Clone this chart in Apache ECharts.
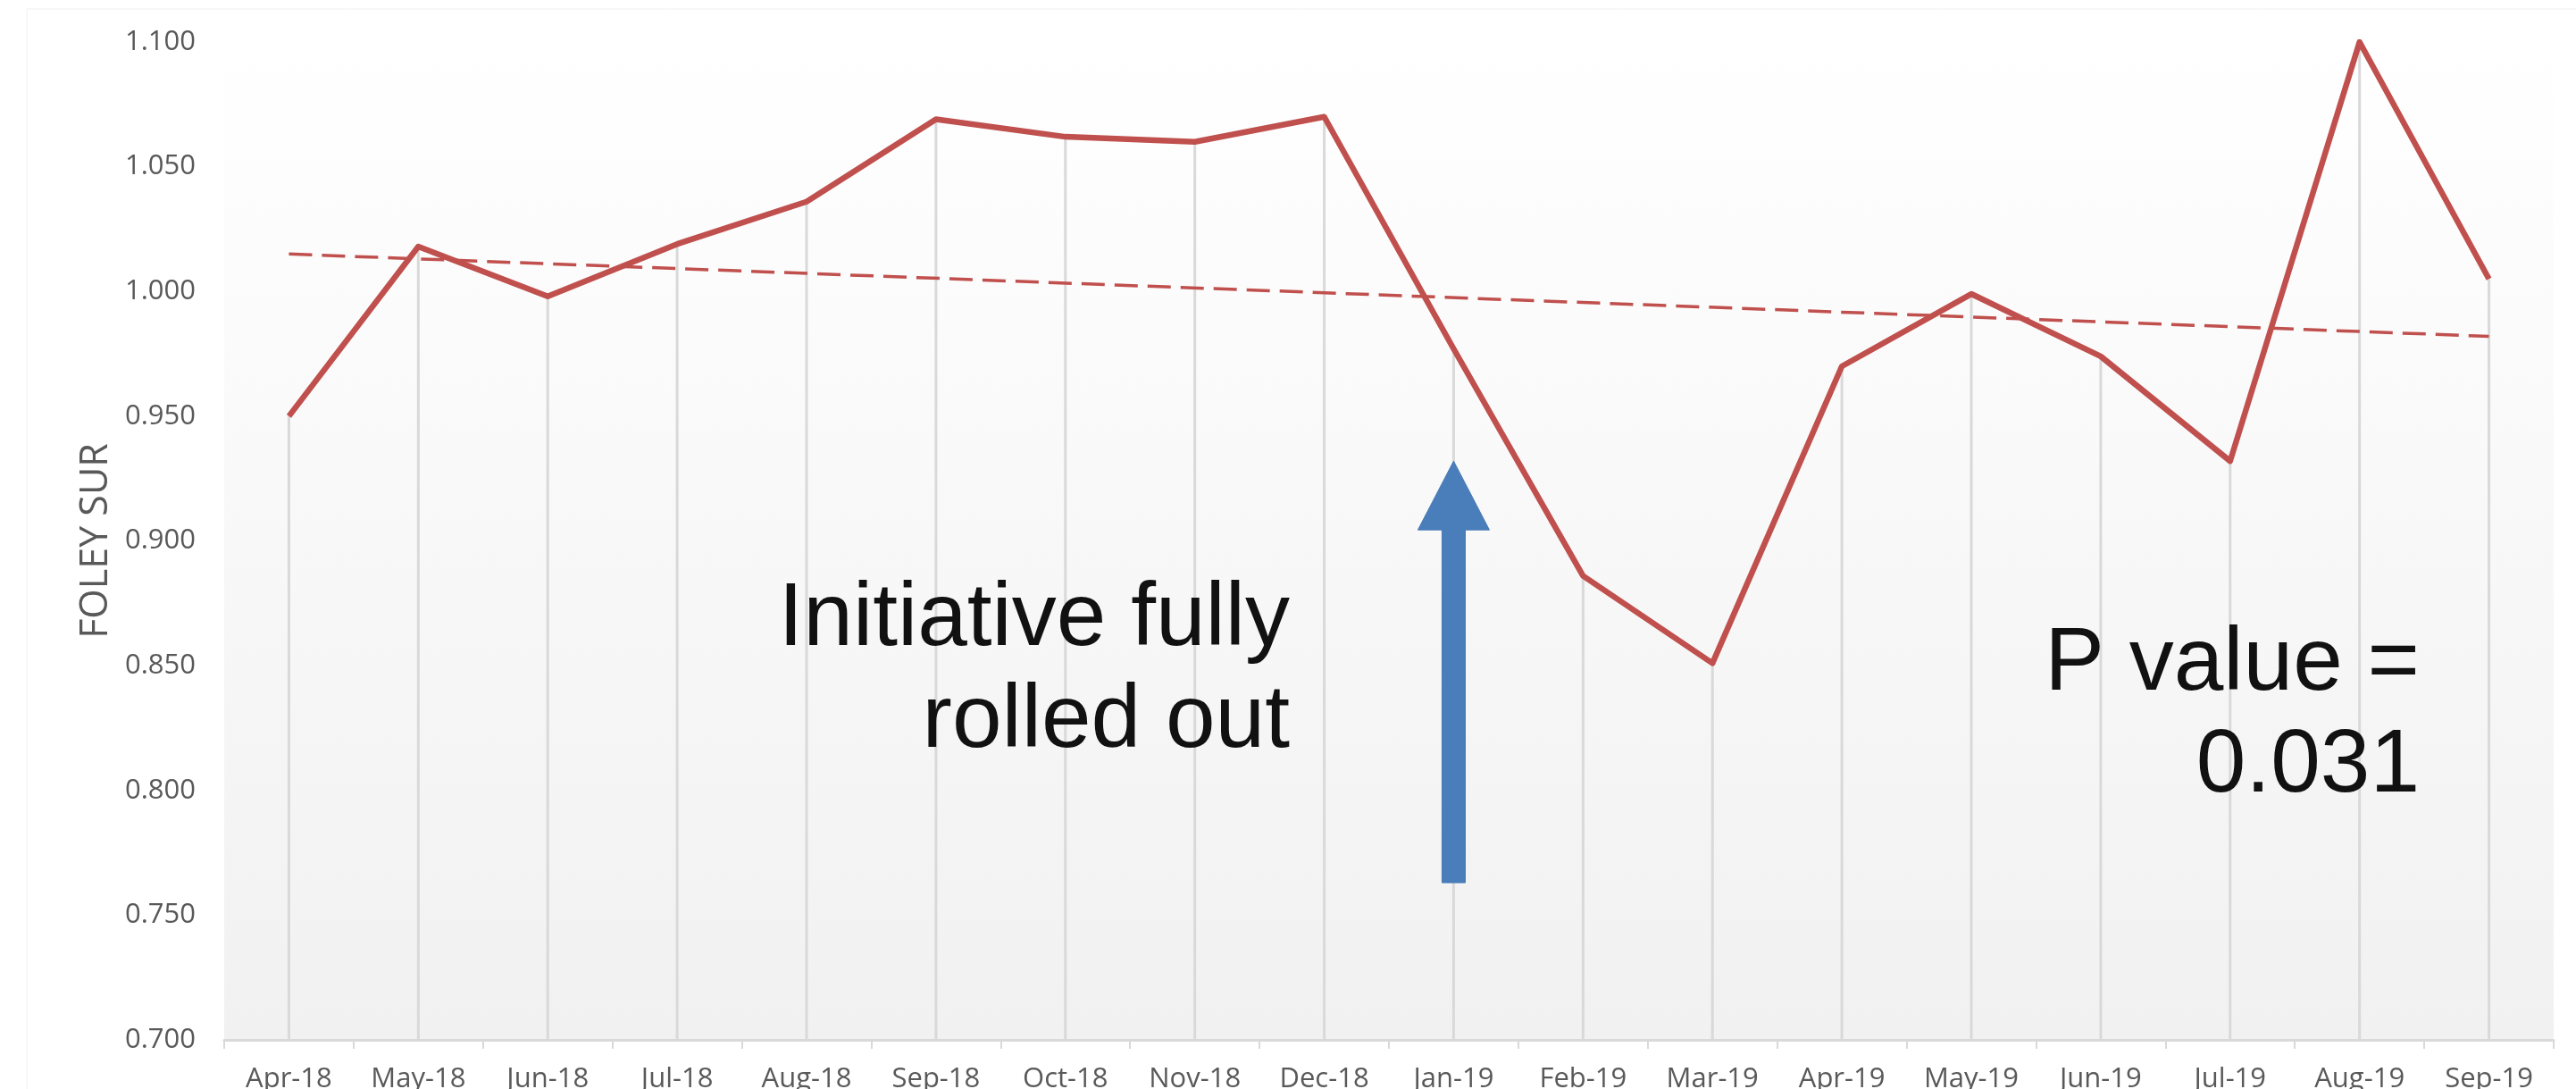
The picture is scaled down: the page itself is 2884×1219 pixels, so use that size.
<!DOCTYPE html>
<html>
<head>
<meta charset="utf-8">
<title>Foley SUR</title>
<script src="https://cdn.jsdelivr.net/npm/echarts@6/dist/echarts.min.js"></script>
<style>
  html, body { margin: 0; padding: 0; background: #ffffff; }
  #chart { width: 2884px; height: 1219px; }
</style>
</head>
<body>
<div id="chart"></div>
<script>
// Monthly Foley standardized utilization ratio (SUR)
const months = ['Apr-18', 'May-18', 'Jun-18', 'Jul-18', 'Aug-18', 'Sep-18',
                'Oct-18', 'Nov-18', 'Dec-18', 'Jan-19', 'Feb-19', 'Mar-19',
                'Apr-19', 'May-19', 'Jun-19', 'Jul-19', 'Aug-19', 'Sep-19'];
const foleySur = [0.950, 1.018, 0.998, 1.019, 1.036, 1.069,
                  1.062, 1.060, 1.070, 0.977, 0.886, 0.851,
                  0.970, 0.999, 0.974, 0.932, 1.100, 1.005];
// Linear trend: value at the first and at the last month
const trendStart = 1.015;
const trendEnd = 0.982;
// Value axis range and step
const yMin = 0.70;
const yMax = 1.10;
const yStep = 0.05;
// Annotation: arrow on the roll-out month
const rolloutMonth = 'Jan-19';
const arrowTipValue = 0.932;
const arrowTailValue = 0.763;

const trendline = months.map((m, i) =>
  i === 0 ? trendStart : (i === months.length - 1 ? trendEnd : null));

const chart = echarts.init(document.getElementById('chart'), null, { renderer: 'canvas' });

const tickFont = 'Open Sans, Segoe UI, sans-serif';
const calloutFont = 'Liberation Sans, Arial, Helvetica, sans-serif';
const RED = '#c0504d';

chart.setOption({
  animation: false,
  backgroundColor: '#ffffff',
  grid: {
    left: 251, right: 25, top: 47, bottom: 55,
    containLabel: false,
    outerBoundsMode: 'none',
    show: true,
    borderWidth: 0,
    backgroundColor: new echarts.graphic.LinearGradient(0, 0, 0, 1, [
      { offset: 0, color: '#ffffff' },
      { offset: 1, color: '#f1f1f1' }
    ])
  },
  xAxis: {
    type: 'category',
    data: months,
    boundaryGap: true,
    axisLine: { show: true, lineStyle: { color: '#d9d9d9', width: 3 } },
    axisTick: { show: true, length: 10, lineStyle: { color: '#d9d9d9', width: 2 } },
    axisLabel: { interval: 0, margin: 29, fontFamily: tickFont, fontSize: 31, color: '#595959' },
    splitLine: { show: false }
  },
  yAxis: {
    type: 'value',
    min: yMin,
    max: yMax,
    interval: yStep,
    startValue: yMin,
    axisLine: { show: false },
    axisTick: { show: false },
    splitLine: { show: false },
    axisLabel: {
      margin: 32,
      fontFamily: tickFont, fontSize: 31, color: '#595959',
      formatter: v => v.toFixed(3)
    },
    name: 'FOLEY SUR',
    nameLocation: 'middle',
    nameGap: 120,
    nameTextStyle: { fontFamily: tickFont, fontSize: 43, color: '#595959' }
  },
  series: [
    {
      // drop lines from each monthly value down to the axis
      name: 'drop',
      type: 'bar',
      data: foleySur,
      barWidth: 3,
      clip: true,
      silent: true,
      itemStyle: { color: '#d9d9d9' },
      z: 1
    },
    {
      name: 'Linear (FOLEY SUR)',
      type: 'line',
      data: trendline,
      connectNulls: true,
      symbol: 'none',
      silent: true,
      lineStyle: { color: RED, width: 3.5, type: [26, 11] },
      z: 3
    },
    {
      name: 'FOLEY SUR',
      type: 'line',
      data: foleySur,
      symbol: 'none',
      lineStyle: { color: RED, width: 6.5, join: 'round' },
      z: 4
    }
  ]
});

// Arrow and callouts, placed after the axes are laid out
const tip = chart.convertToPixel({ gridIndex: 0 }, [rolloutMonth, arrowTipValue]);
const tail = chart.convertToPixel({ gridIndex: 0 }, [rolloutMonth, arrowTailValue]);
const cx = tip[0];
const headHalf = 40, headLen = 77, shaftHalf = 13;

chart.setOption({
  graphic: [
    {
      type: 'rect',
      shape: { x: 30, y: 10, width: 3000, height: 1400 },
      style: { fill: 'none', stroke: '#f0f0f0', lineWidth: 1 },
      silent: true, z: -1
    },
    {
      type: 'polygon',
      shape: {
        points: [
          [cx, tip[1]],
          [cx + headHalf, tip[1] + headLen],
          [cx + shaftHalf, tip[1] + headLen],
          [cx + shaftHalf, tail[1]],
          [cx - shaftHalf, tail[1]],
          [cx - shaftHalf, tip[1] + headLen],
          [cx - headHalf, tip[1] + headLen]
        ]
      },
      style: { fill: '#4a7ebb', stroke: '#4577b3', lineWidth: 1 },
      z: 10
    },
    {
      type: 'text', x: 1444, y: 694,
      style: { text: 'Initiative fully', fill: '#111111', font: '100px ' + calloutFont, align: 'right', verticalAlign: 'middle' },
      z: 10
    },
    {
      type: 'text', x: 1444, y: 808,
      style: { text: 'rolled out', fill: '#111111', font: '100px ' + calloutFont, align: 'right', verticalAlign: 'middle' },
      z: 10
    },
    {
      type: 'text', x: 2709, y: 744,
      style: { text: 'P value =', fill: '#111111', font: '100px ' + calloutFont, align: 'right', verticalAlign: 'middle' },
      z: 10
    },
    {
      type: 'text', x: 2709, y: 858,
      style: { text: '0.031', fill: '#111111', font: '100px ' + calloutFont, align: 'right', verticalAlign: 'middle' },
      z: 10
    }
  ]
});
</script>
</body>
</html>
